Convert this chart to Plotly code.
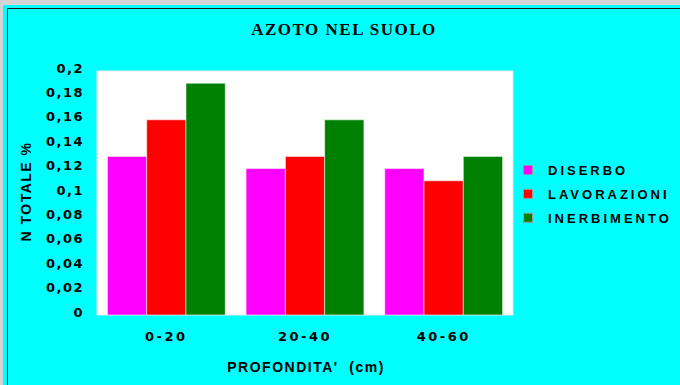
import plotly.graph_objects as go

# Soil nitrogen by depth and management
depths = ["0-20", "20-40", "40-60"]
series_names = ["DISERBO", "LAVORAZIONI", "INERBIMENTO"]
diserbo = [0.13, 0.12, 0.12]
lavorazioni = [0.16, 0.13, 0.11]
inerbimento = [0.19, 0.16, 0.13]
y_ticks = [0, 0.02, 0.04, 0.06, 0.08, 0.1, 0.12, 0.14, 0.16, 0.18, 0.2]
y_tick_text = ["0", "0,02", "0,04", "0,06", "0,08", "0,1", "0,12", "0,14", "0,16", "0,18", "0,2"]

colors = ["#FF00FF", "#FF0000", "#008000"]

W, H = 680, 385
PL, PR, PT, PB = 97, 513, 71, 315


def px(x):
    return (x - PL) / (PR - PL)


def py(y):
    return (PB - y) / (PB - PT)


fig = go.Figure()
for name, vals, col in zip(series_names, [diserbo, lavorazioni, inerbimento], colors):
    fig.add_trace(go.Bar(
        x=depths, y=vals, name=name, legendgroup=name, showlegend=False,
        marker=dict(color=col, line=dict(color="rgba(255,255,255,0.55)", width=1)),
    ))
# small square keys for the legend
for name, col in zip(series_names, colors):
    fig.add_trace(go.Scatter(
        x=[None], y=[None], mode="markers", name="<b>" + name + "</b>",
        legendgroup=name, showlegend=True,
        marker=dict(symbol="square", size=9, color=col,
                    line=dict(color="#9a9a9a", width=1)),
    ))

shapes = [
    # chart area fill
    dict(type="rect", xref="paper", yref="paper", layer="below",
         x0=px(3), x1=px(680), y0=py(5), y1=py(400),
         fillcolor="#00FFFF", line=dict(width=0)),
    # dark frame edges
    dict(type="line", xref="paper", yref="paper", layer="below",
         x0=px(7.5), x1=px(680), y0=py(8.5), y1=py(8.5),
         line=dict(color="#1a1a1a", width=1)),
    dict(type="line", xref="paper", yref="paper", layer="below",
         x0=px(7.5), x1=px(7.5), y0=py(8.5), y1=py(400),
         line=dict(color="#1a1a1a", width=1)),
    # plot area
    dict(type="rect", xref="paper", yref="paper", layer="below",
         x0=0, x1=1, y0=0, y1=1,
         fillcolor="#FFFFFF", line=dict(color="#e8e8e8", width=1)),
]

annotations = [
    dict(text="<b>N TOTALE %</b>", xref="paper", yref="paper",
         x=px(26), y=py(191), xanchor="center", yanchor="middle",
         textangle=-90, showarrow=False,
         font=dict(family="Liberation Sans", size=14, color="#000000")),
    dict(text="<b>PROFONDITA'  (cm)</b>", xref="paper", yref="paper",
         x=px(306), y=py(367), xanchor="center", yanchor="middle",
         showarrow=False,
         font=dict(family="Liberation Sans", size=14, color="#000000")),
]

fig.update_layout(
    width=W, height=H,
    margin=dict(l=PL, r=W - PR, t=PT, b=H - PB, pad=0),
    paper_bgcolor="#d4d4d4",
    plot_bgcolor="rgba(0,0,0,0)",
    barmode="group", bargap=0.15, bargroupgap=0,
    title=dict(text="<b>AZOTO NEL SUOLO</b>", x=344 / W, xref="container",
               y=1 - 29 / H, yref="container", xanchor="center", yanchor="middle",
               font=dict(family="Liberation Serif", size=17, color="#000000")),
    xaxis=dict(showgrid=False, zeroline=False, showline=False, ticks="",
               tickvals=depths, ticktext=["<b>" + d + "</b>" for d in depths],
               tickfont=dict(family="DejaVu Sans", size=13, color="#000000"),
               ticklabelstandoff=12),
    yaxis=dict(range=[0, 0.2], tickvals=y_ticks,
               ticktext=["<b>" + t + "</b>" for t in y_tick_text],
               showgrid=False, zeroline=False, showline=False, ticks="",
               tickfont=dict(family="DejaVu Sans", size=13, color="#000000"),
               ticklabelstandoff=12, ticklabelshift=-3),
    legend=dict(x=px(508), xanchor="left", y=py(194), yanchor="middle",
                bgcolor="rgba(0,0,0,0)", traceorder="grouped", tracegroupgap=4,
                entrywidth=160, entrywidthmode="pixels",
                font=dict(family="Liberation Sans", size=13, color="#000000")),
    shapes=shapes,
    annotations=annotations,
    showlegend=True,
)

# widen character spacing on the chart texts; let the legend text run past its box
spacing_js = """
var gd = document.getElementById('{plot_id}');
function spaceText() {
  var rules = [['.gtitle', '1.5px'], ['.xtick text', '2.5px'], ['.ytick text', '1.5px'],
               ['.legendtext', '3px'], ['.annotation-text', '1.5px']];
  rules.forEach(function (r) {
    gd.querySelectorAll(r[0]).forEach(function (el) {
      el.setAttribute('letter-spacing', r[1]);
    });
  });
  gd.querySelectorAll('.legend, .legend .scrollbox').forEach(function (el) {
    el.removeAttribute('clip-path');
  });
}
spaceText();
gd.on('plotly_afterplot', spaceText);
"""

fig.write_html("out.html", post_script=spacing_js)
